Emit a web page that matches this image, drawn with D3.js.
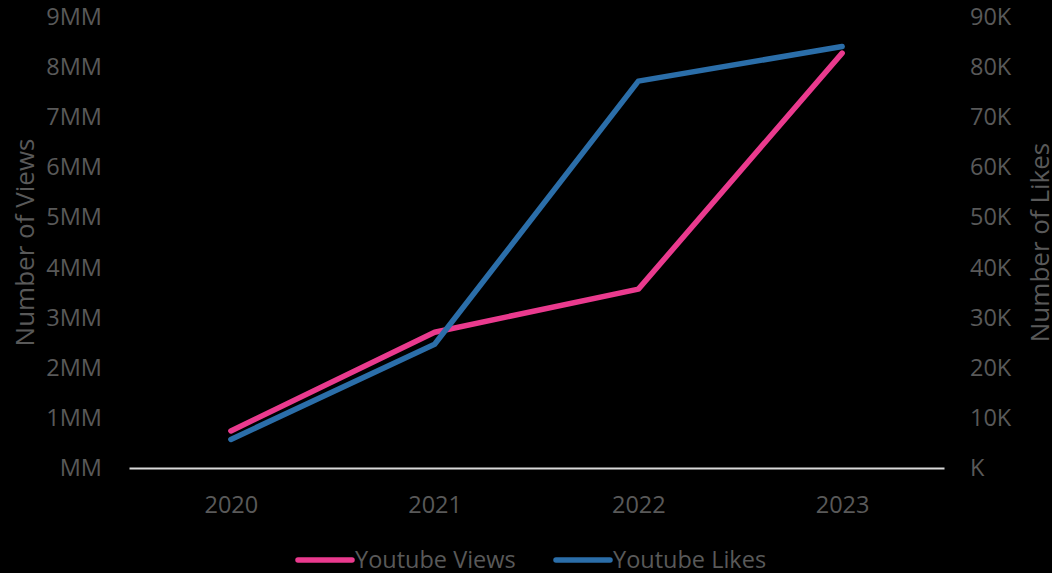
<!DOCTYPE html>
<html>
<head>
<meta charset="utf-8">
<script src="https://cdn.jsdelivr.net/npm/d3@7"></script>
<style>
  body { margin: 0; background: #000; }
  svg { display: block; background: #000; font-family: "Open Sans", sans-serif; }
</style>
</head>
<body>
<div id="chart"></div>
<script>
// Chart data
var years = ["2020", "2021", "2022", "2023"];
var views = [740000, 2710000, 3570000, 8280000];
var likes = [5700, 24700, 77200, 84100];
var viewTicks = [0, 1, 2, 3, 4, 5, 6, 7, 8, 9];
var likeTicks = [0, 10, 20, 30, 40, 50, 60, 70, 80, 90];

var svgWidth = 1052;
var svgHeight = 573;

var margin = { top: 17, right: 108, bottom: 105, left: 129 };
var width = svgWidth - margin.left - margin.right;
var height = svgHeight - margin.top - margin.bottom;

var textColor = "#595959";
var pink = "#ea3a8e";
var blue = "#2b6ea9";
var tickSize = "23.5px";

var svg = d3.select("#chart")
  .append("svg")
  .attr("width", svgWidth)
  .attr("height", svgHeight);

var chartGroup = svg.append("g")
  .attr("transform", `translate(${margin.left}, ${margin.top})`);

// Scales
var xScale = d3.scalePoint()
  .domain(years)
  .range([0, width])
  .padding(0.5);

var yViews = d3.scaleLinear()
  .domain([0, 9000000])
  .range([height, 0]);

var yLikes = d3.scaleLinear()
  .domain([0, 90000])
  .range([height, 0]);

// Left axis
var leftAxis = d3.axisLeft(yViews)
  .tickValues(viewTicks.map(d => d * 1000000))
  .tickFormat(d => (d === 0 ? "" : d / 1000000) + "MM")
  .tickSize(0)
  .tickPadding(27);

var leftG = chartGroup.append("g").call(leftAxis);
leftG.select(".domain").remove();
leftG.selectAll("text")
  .attr("fill", textColor)
  .attr("font-size", tickSize)
  .attr("font-family", "Open Sans");

// Right axis
var rightAxis = d3.axisRight(yLikes)
  .tickValues(likeTicks.map(d => d * 1000))
  .tickFormat(d => (d === 0 ? "" : d / 1000) + "K")
  .tickSize(0)
  .tickPadding(26);

var rightG = chartGroup.append("g")
  .attr("transform", `translate(${width}, 0)`)
  .call(rightAxis);
rightG.select(".domain").remove();
rightG.selectAll("text")
  .attr("fill", textColor)
  .attr("font-size", tickSize)
  .attr("font-family", "Open Sans");

// Bottom axis
var bottomAxis = d3.axisBottom(xScale)
  .tickSize(0)
  .tickPadding(28);

var bottomG = chartGroup.append("g")
  .attr("transform", `translate(0, ${height})`)
  .call(bottomAxis);
bottomG.select(".domain")
  .attr("stroke", "#d9d9d9")
  .attr("stroke-width", 2);
bottomG.selectAll("text")
  .attr("fill", textColor)
  .attr("font-size", tickSize)
  .attr("font-family", "Open Sans");

// Lines
var viewLine = d3.line()
  .x((d, i) => xScale(years[i]))
  .y(d => yViews(d));

var likeLine = d3.line()
  .x((d, i) => xScale(years[i]))
  .y(d => yLikes(d));

chartGroup.append("path")
  .datum(views)
  .attr("d", viewLine)
  .attr("fill", "none")
  .attr("stroke", pink)
  .attr("stroke-width", 5.5)
  .attr("stroke-linecap", "round")
  .attr("stroke-linejoin", "round");

chartGroup.append("path")
  .datum(likes)
  .attr("d", likeLine)
  .attr("fill", "none")
  .attr("stroke", blue)
  .attr("stroke-width", 5.5)
  .attr("stroke-linecap", "round")
  .attr("stroke-linejoin", "round");

// Axis titles
svg.append("text")
  .attr("transform", `translate(34, ${margin.top + height / 2}) rotate(-90)`)
  .attr("text-anchor", "middle")
  .attr("fill", textColor)
  .attr("font-size", "26px")
  .text("Number of Views");

svg.append("text")
  .attr("transform", `translate(1049, ${margin.top + height / 2}) rotate(-90)`)
  .attr("text-anchor", "middle")
  .attr("fill", textColor)
  .attr("font-size", "26px")
  .text("Number of Likes");

// Legend
var legendItems = [
  { name: "Youtube Views", color: pink, x: 298 },
  { name: "Youtube Likes", color: blue, x: 556 }
];

var legend = svg.selectAll(".legend")
  .data(legendItems)
  .enter()
  .append("g")
  .attr("class", "legend")
  .attr("transform", d => `translate(${d.x}, 560)`);

legend.append("line")
  .attr("x1", 0)
  .attr("x2", 54)
  .attr("y1", 0)
  .attr("y2", 0)
  .attr("stroke", d => d.color)
  .attr("stroke-width", 5.5)
  .attr("stroke-linecap", "round");

legend.append("text")
  .attr("x", 57)
  .attr("y", 8)
  .attr("fill", textColor)
  .attr("font-size", tickSize)
  .text(d => d.name);
</script>
</body>
</html>
